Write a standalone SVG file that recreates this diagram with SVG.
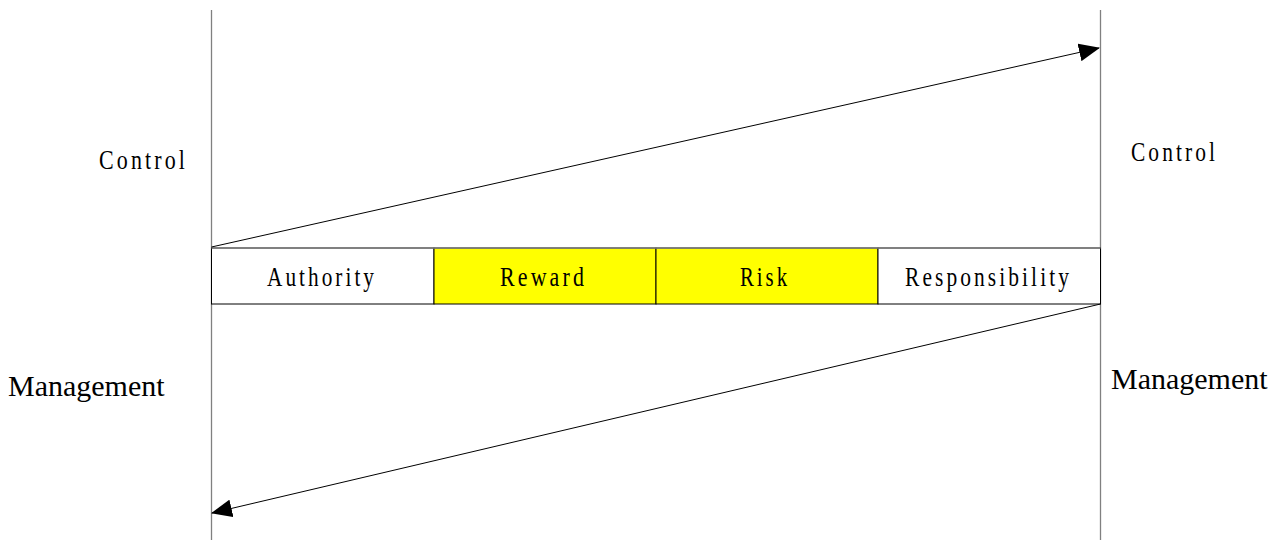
<svg xmlns="http://www.w3.org/2000/svg" width="1287" height="540" viewBox="0 0 1287 540">
<style>
.t{font-family:"Liberation Serif","Times New Roman",serif;font-size:28px;fill:#000}
.sp{letter-spacing:4px}
.m{font-size:30px}
.axis{stroke:#808080;stroke-width:1.3}
.cell{stroke:#000;stroke-width:1}
.conn{stroke:#000;stroke-width:1;fill:none}
</style>
<defs>
<marker id="ah" markerWidth="21" markerHeight="18" refX="20" refY="9" orient="auto" markerUnits="userSpaceOnUse">
<path d="M0,0 L21,9 L0,18 Z" fill="#000"/>
</marker>
</defs>
<rect width="1287" height="540" fill="#fff"/>
<g id="axes">
<line class="axis" x1="211.5" y1="10" x2="211.5" y2="540"/>
<line class="axis" x1="1100.5" y1="10" x2="1100.5" y2="540"/>
</g>
<g id="node-authority">
<rect class="cell" x="211.5" y="248" width="222.5" height="56" fill="#fff"/>
<text class="t sp" x="267" y="286" textLength="110" lengthAdjust="spacingAndGlyphs">Authority</text>
</g>
<g id="node-reward">
<rect class="cell" x="434" y="248" width="222" height="56" fill="#ffff00"/>
<text class="t sp" x="500" y="286" textLength="87" lengthAdjust="spacingAndGlyphs">Reward</text>
</g>
<g id="node-risk">
<rect class="cell" x="656" y="248" width="222" height="56" fill="#ffff00"/>
<text class="t sp" x="740" y="286" textLength="50" lengthAdjust="spacingAndGlyphs">Risk</text>
</g>
<g id="node-responsibility">
<rect class="cell" x="878" y="248" width="222.5" height="56" fill="#fff"/>
<text class="t sp" x="905" y="286" textLength="167" lengthAdjust="spacingAndGlyphs">Responsibility</text>
</g>
<line x1="211.5" y1="248" x2="1100.5" y2="248" stroke="#808080" stroke-width="1.3"/>
<g id="labels">
<text class="t sp" x="99" y="169" textLength="89" lengthAdjust="spacingAndGlyphs">Control</text>
<text class="t sp" x="1131" y="161" textLength="87" lengthAdjust="spacingAndGlyphs">Control</text>
<text class="t m" x="8" y="396">Management</text>
<text class="t m" x="1111" y="389">Management</text>
</g>
<g id="connectors">
<line class="conn" x1="211.5" y1="247" x2="1099" y2="48" marker-end="url(#ah)"/>
<line class="conn" x1="1100.5" y1="304" x2="212" y2="513" marker-end="url(#ah)"/>
</g>
</svg>
